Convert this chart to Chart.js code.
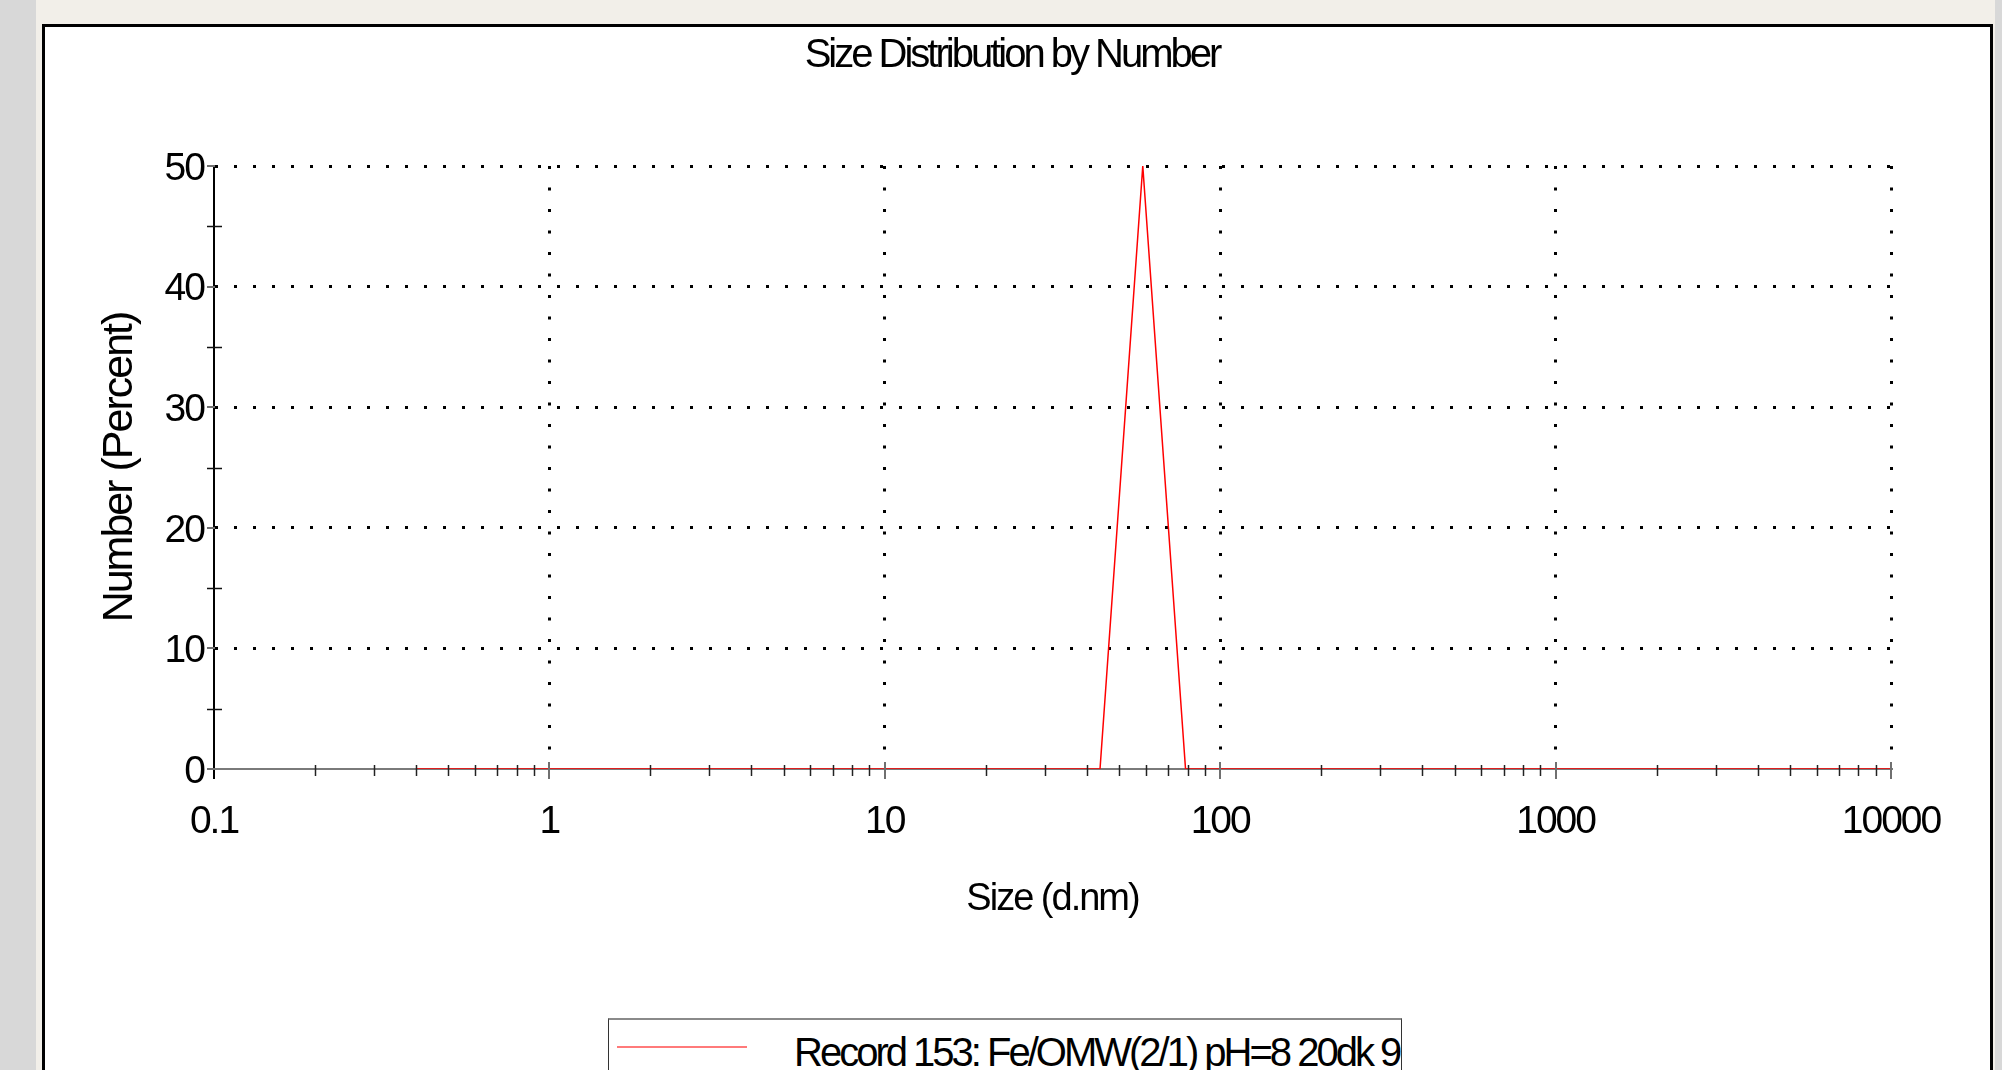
<!DOCTYPE html>
<html>
<head>
<meta charset="utf-8">
<title>Size Distribution by Number</title>
<script src="https://cdn.jsdelivr.net/npm/chart.js@4.4.0/dist/chart.umd.min.js"></script>
<style>
  html, body { margin: 0; padding: 0; }
  body {
    width: 2002px; height: 1070px; overflow: hidden; position: relative;
    background: #f2efe9; font-family: "Liberation Sans", Arial, sans-serif; color: #000;
  }
  .strip-left { position: absolute; left: 0; top: 0; width: 36px; height: 1070px; background: #d8d8d8; }
  .strip-right { position: absolute; left: 1995px; top: 0; width: 7px; height: 1070px; background: #d8d8d8; }
  .frame {
    position: absolute; left: 42px; top: 24px; width: 1945px; height: 1100px;
    border: 3px solid #000; background: #fff;
  }
  #sizeChart { position: absolute; left: 0; top: 0; }
  .title {
    position: absolute; left: 1012px; top: 33px; transform: translateX(-50%);
    font-size: 40px; line-height: 40px; letter-spacing: -3px; white-space: nowrap;
  }
  .legend {
    position: absolute; left: 608px; top: 1018px; width: 792px; height: 80px; overflow: hidden;
    border: 1px solid #333; border-top: 2px solid #8a8a8a; background: #fff;
  }
  .legend .swatch { position: absolute; left: 8px; top: 26px; width: 130px; height: 2px; background: #ff7a7a; }
  .legend .text {
    position: absolute; left: 185px; top: 12px;
    font-size: 40px; line-height: 40px; letter-spacing: -3px; white-space: nowrap;
  }
</style>
</head>
<body>
<div class="strip-left"></div>
<div class="strip-right"></div>
<div class="frame"></div>
<canvas id="sizeChart" width="2002" height="1070"></canvas>
<div class="title">Size Distribution by Number</div>
<div class="legend"><span class="swatch"></span><span class="text" id="legendText"></span></div>

<script>
// size bins (d.nm) and number distribution (%)
const sizes = [
  0.4, 0.4632, 0.5365, 0.6213, 0.7195, 0.8332, 0.9649, 1.117, 1.294, 1.499,
  1.736, 2.01, 2.328, 2.696, 3.122, 3.615, 4.187, 4.849, 5.615, 6.503,
  7.531, 8.721, 10.1, 11.7, 13.54, 15.69, 18.17, 21.04, 24.36, 28.21,
  32.67, 37.84, 43.82, 50.75, 58.77, 68.06, 78.82, 91.28, 105.7, 122.4,
  141.8, 164.2, 190.1, 220.2, 255.0, 295.3, 342.0, 396.1, 458.7, 531.2,
  615.1, 712.4, 825.0, 955.4, 1106, 1281, 1484, 1718, 1990, 2305,
  2669, 3091, 3580, 4145, 4801, 5560, 6439, 7456, 8635, 10000
];
const numberPct = [
  0, 0, 0, 0, 0, 0, 0, 0, 0, 0,
  0, 0, 0, 0, 0, 0, 0, 0, 0, 0,
  0, 0, 0, 0, 0, 0, 0, 0, 0, 0,
  0, 0, 0, 25, 50, 25, 0, 0, 0, 0,
  0, 0, 0, 0, 0, 0, 0, 0, 0, 0,
  0, 0, 0, 0, 0, 0, 0, 0, 0, 0,
  0, 0, 0, 0, 0, 0, 0, 0, 0, 0
];
const seriesLabel = "Record 153: Fe/OMW(2/1) pH=8 20dk 9";

const xTickValues = [0.1, 1, 10, 100, 1000, 10000];
const xTickLabels = ["0.1", "1", "10", "100", "1000", "10000"];
const minorSteps = [2, 3, 4, 5, 6, 7, 8, 9];
const yTickValues = [0, 10, 20, 30, 40, 50];
const yTickLabels = ["0", "10", "20", "30", "40", "50"];
const yMinorValues = [5, 15, 25, 35, 45];

const xMinorValues = xTickValues.slice(0, -1).flatMap(d => minorSteps.map(m => m * d));

const fontFamily = "'Liberation Sans', Arial, sans-serif";
const clear = "rgba(0,0,0,0)";

// the original uses tightly spaced glyphs
const tightText = {
  id: "tightText",
  beforeLayout(chart) { chart.ctx.letterSpacing = "-2px"; },
  beforeDraw(chart) { chart.ctx.letterSpacing = "-2px"; }
};

// small crossing tick marks on both axes
const axisMarks = {
  id: "axisMarks",
  afterDatasetsDraw(chart) {
    const { ctx, scales: { x, y } } = chart;
    const x0 = Math.round(x.getPixelForValue(0.1));
    const y0 = Math.round(y.getPixelForValue(0));
    const line = (x1, y1, x2, y2, color, width) => {
      ctx.strokeStyle = color;
      ctx.lineWidth = width;
      ctx.beginPath();
      ctx.moveTo(x1, y1);
      ctx.lineTo(x2, y2);
      ctx.stroke();
    };
    ctx.save();
    xMinorValues.forEach(v => {
      const px = Math.round(x.getPixelForValue(v)) + 0.5;
      line(px, y0 - 4, px, y0 + 7, "#222", 1.5);
    });
    xTickValues.forEach(v => {
      const px = Math.round(x.getPixelForValue(v));
      line(px, y0 - 7, px, y0 + 10, v === 0.1 ? "#000" : "#707070", 2);
    });
    yMinorValues.forEach(v => {
      const py = Math.round(y.getPixelForValue(v)) + 0.5;
      line(x0 - 7, py, x0 + 8, py, "#111", 1.5);
    });
    yTickValues.forEach(v => {
      const py = Math.round(y.getPixelForValue(v));
      line(x0 - 7, py, x0 + 1, py, "#707070", 2);
    });
    ctx.restore();
  }
};

const ctx = document.getElementById("sizeChart").getContext("2d");
const sizeChart = new Chart(ctx, {
  type: "line",
  data: {
    labels: sizes,
    datasets: [
      {
        label: seriesLabel,
        data: numberPct,
        borderColor: "#ff0000",
        borderWidth: 1.5,
        pointRadius: 0,
        tension: 0,
        fill: false,
      },
    ],
  },
  options: {
    responsive: false,
    animation: false,
    layout: { padding: { left: 42, right: 111, top: 166, bottom: 0 } },
    plugins: {
      legend: { display: false },
      title: { display: false },
      tooltip: { enabled: false },
    },
    scales: {
      x: {
        type: "logarithmic",
        min: 0.1,
        max: 10000,
        afterBuildTicks: (s) => { s.ticks = xTickValues.map(v => ({ value: v })); },
        afterFit: (s) => { s.height = 301; },
        ticks: {
          autoSkip: false,
          maxRotation: 0,
          padding: 30,
          color: "#000",
          font: { family: fontFamily, size: 39 },
          callback: (v, i) => xTickLabels[i],
        },
        grid: {
          drawTicks: false,
          lineWidth: 3,
          color: (c) => (c.tick && c.tick.value === 0.1 ? clear : "#000"),
        },
        border: { display: true, color: "#7a7a7a", width: 2, dash: [3, 18.5] },
        title: {
          display: true,
          text: "Size (d.nm)",
          color: "#000",
          font: { family: fontFamily, size: 38 },
          padding: { top: 0, bottom: 148 },
        },
      },
      y: {
        type: "linear",
        min: 0,
        max: 50,
        afterBuildTicks: (s) => { s.ticks = yTickValues.map(v => ({ value: v })); },
        afterFit: (s) => { s.width = 172; },
        ticks: {
          padding: 10,
          labelOffset: 3,
          color: "#000",
          font: { family: fontFamily, size: 39 },
          callback: (v, i) => yTickLabels[i],
        },
        grid: {
          drawTicks: false,
          lineWidth: 3,
          color: (c) => (c.tick && c.tick.value === 0 ? clear : "#000"),
        },
        border: { display: true, color: "#000", width: 2, dash: [3, 16] },
        title: {
          display: true,
          text: "Number (Percent)",
          color: "#000",
          font: { family: fontFamily, size: 43 },
          padding: { top: 52, bottom: 0 },
        },
      },
    },
  },
  plugins: [tightText, axisMarks],
});

document.getElementById("legendText").textContent = sizeChart.data.datasets[0].label;
</script>
</body>
</html>
